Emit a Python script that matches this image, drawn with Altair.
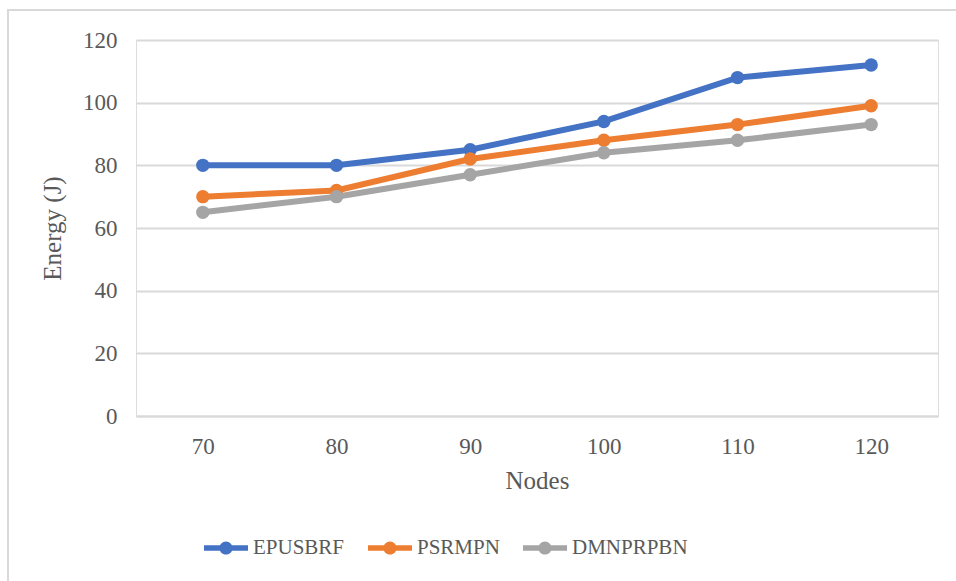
import altair as alt
import pandas as pd

nodes = ["70", "80", "90", "100", "110", "120"]
series_names = ["EPUSBRF", "PSRMPN", "DMNPRPBN"]
epusbrf = [80, 80, 85, 94, 108, 112]
psrmpn = [70, 72, 82, 88, 93, 99]
dmnprpbn = [65, 70, 77, 84, 88, 93]
colors = ["#4472C4", "#ED7D31", "#A5A5A5"]

rows = []
for name, vals in zip(series_names, [epusbrf, psrmpn, dmnprpbn]):
    for n, v in zip(nodes, vals):
        rows.append({"Nodes": n, "Energy": v, "Series": name})
df = pd.DataFrame(rows)

FONT = "Liberation Serif"
GRAY = "#595959"

legend_shape = ("M-1,-0.12 L1,-0.12 L1,0.12 L-1,0.12 Z "
                "M-0.3,0 A0.3,0.3 0 1,1 0.3,0 A0.3,0.3 0 1,1 -0.3,0 Z")

color_scale = alt.Scale(domain=series_names, range=colors)
legend = alt.Legend(title=None, orient="none", direction="horizontal",
                    legendX=68, legendY=486,
                    symbolType=legend_shape, symbolSize=1936,
                    symbolStrokeWidth=0, symbolOpacity=1,
                    labelFont=FONT, labelFontSize=21, labelColor=GRAY,
                    labelOffset=5, columnPadding=23)

x_enc = alt.X("Nodes:N", sort=nodes, title="Nodes",
              scale=alt.Scale(paddingInner=0, paddingOuter=0.5),
              axis=alt.Axis(labelAngle=0, ticks=False, domain=True, domainColor="#d9d9d9",
                            domainWidth=2, grid=False, labelFont=FONT, labelFontSize=23,
                            labelColor=GRAY, labelPadding=19, titleFont=FONT, titleFontSize=25,
                            titleColor=GRAY, titleFontWeight="normal", titlePadding=10))
y_enc = alt.Y("Energy:Q", title="Energy (J)",
              scale=alt.Scale(domain=[0, 120], nice=False),
              axis=alt.Axis(values=[0, 20, 40, 60, 80, 100, 120], ticks=False, domain=False,
                            gridColor="#d9d9d9", gridWidth=2, labelFont=FONT,
                            labelFontSize=23, labelColor=GRAY, labelPadding=19,
                            titleFont=FONT, titleFontSize=25, titleColor=GRAY,
                            titleFontWeight="normal", titlePadding=17))

color_enc = alt.Color("Series:N", scale=color_scale, sort=series_names, legend=legend)

lines = alt.Chart(df).mark_line(strokeWidth=6).encode(
    x=x_enc, y=y_enc, color=color_enc, detail="Series:N",
)
points = alt.Chart(df).mark_circle(size=180, opacity=1).encode(
    x=alt.X("Nodes:N", sort=nodes),
    y=alt.Y("Energy:Q"),
    color=color_enc,
)

border_df = pd.DataFrame({"k": [0]})
border = alt.Chart(border_df).mark_rect(fill=None, stroke="#d9d9d9", strokeWidth=2).encode(
    x=alt.value(-128), x2=alt.value(900), y=alt.value(-30), y2=alt.value(600)
)

chart = alt.layer(border, lines, points).properties(
    width=802, height=376,
    autosize=alt.AutoSizeParams(type="none"),
    padding={"left": 136, "top": 40, "right": 18, "bottom": 165},
).configure_view(stroke=None).configure(background="white", font=FONT).configure_legend(
    labelFont=FONT, labelFontSize=21, labelColor=GRAY
)

chart.save("out.html", embed_options={"renderer": "svg", "actions": False})
